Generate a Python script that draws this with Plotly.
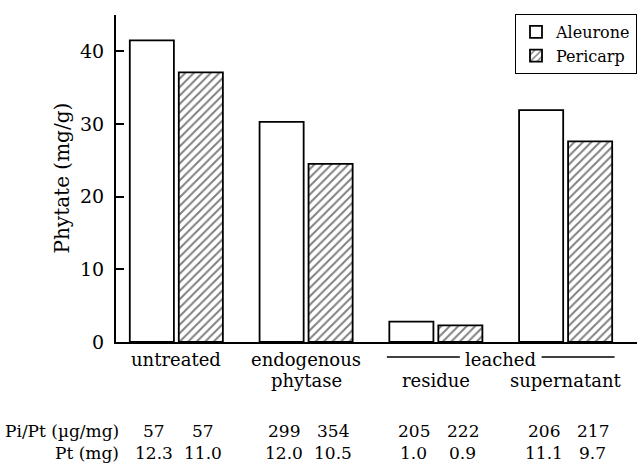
import plotly.graph_objects as go

categories = ["untreated", "endogenous", "residue", "supernatant"]
aleurone = [41.5, 30.3, 2.8, 31.9]
pericarp = [37.1, 24.5, 2.3, 27.6]
cat_line1 = ["untreated", "endogenous", "", ""]
cat_line2 = ["", "phytase", "residue", "supernatant"]
pi_pt_aleurone = ["57", "299", "205", "206"]
pi_pt_pericarp = ["57", "354", "222", "217"]
pt_aleurone = ["12.3", "12.0", "1.0", "11.1"]
pt_pericarp = ["11.0", "10.5", "0.9", "9.7"]
row_labels = ["Pi/Pt (\u00b5g/mg)", "Pt (mg)"]

FONT = "DejaVu Serif"
BARGAP = 0.245
GROUPGAP = 0.1
slot = (1 - BARGAP) / 2
off = slot / 2

xi = list(range(len(categories)))

fig = go.Figure()
fig.add_trace(go.Bar(x=xi, y=aleurone, name="Aleurone",
                     marker=dict(color="white", line=dict(color="black", width=1.8))))
fig.add_trace(go.Bar(x=xi, y=pericarp, name="Pericarp",
                     marker=dict(color="white", line=dict(color="black", width=1.8),
                                 pattern=dict(shape="/", size=6, solidity=0.32,
                                              fgcolor="black", bgcolor="white",
                                              fillmode="overlay"))))

ann = []
def yp(px):
    return (342 - px) / 327.0

CAT = 18
TAB = 17
for i in xi:
    if cat_line1[i]:
        ann.append(dict(x=i, y=yp(359), xref="x", yref="paper", text=cat_line1[i],
                        showarrow=False, font=dict(size=CAT, family=FONT, color="black"),
                        yanchor="middle"))
    if cat_line2[i]:
        ann.append(dict(x=i, y=yp(380), xref="x", yref="paper", text=cat_line2[i],
                        showarrow=False, font=dict(size=CAT, family=FONT, color="black"),
                        yanchor="middle"))
    for vals, sgn, row_y in [(pi_pt_aleurone, -1, 431), (pi_pt_pericarp, 1, 431),
                             (pt_aleurone, -1, 453), (pt_pericarp, 1, 453)]:
        ann.append(dict(x=i + sgn * off + 0.02, y=yp(row_y), xref="x", yref="paper",
                        text=vals[i], showarrow=False,
                        font=dict(size=TAB, family=FONT, color="black"), yanchor="middle"))

# leached group header
lx = (2 + 3) / 2
ann.append(dict(x=lx, y=yp(359), xref="x", yref="paper", text="leached", showarrow=False,
                font=dict(size=CAT, family=FONT, color="black"), yanchor="middle"))

for lbl, row_y in zip(row_labels, [431, 453]):
    ann.append(dict(x=(121 - 116) / 521, y=yp(row_y), xref="paper", yref="paper", text=lbl,
                    showarrow=False, xanchor="right", yanchor="middle",
                    font=dict(size=TAB, family=FONT, color="black")))

ann.append(dict(x=(61 - 116) / 521, y=0.5, xref="paper", yref="paper",
                text="Phytate (mg/g)", textangle=-90, showarrow=False,
                xanchor="center", yanchor="middle",
                font=dict(size=20, family=FONT, color="black")))

shapes = [
    dict(type="line", xref="x", yref="paper", x0=2 - 2 * off, x1=lx - 0.315,
         y0=yp(357), y1=yp(357), line=dict(color="black", width=1.3)),
    dict(type="line", xref="x", yref="paper", x0=lx + 0.315, x1=3 + 2 * off,
         y0=yp(357), y1=yp(357), line=dict(color="black", width=1.3)),
]

fig.update_layout(
    width=637, height=463,
    margin=dict(l=116, r=0, t=15, b=121),
    paper_bgcolor="white", plot_bgcolor="white",
    barmode="group", bargap=BARGAP, bargroupgap=GROUPGAP,
    font=dict(family=FONT, color="black"),
    showlegend=True,
    legend=dict(x=1, y=1.003, xanchor="right", yanchor="top",
                bordercolor="black", borderwidth=1, bgcolor="white",
                font=dict(size=16, family=FONT, color="black"),
                tracegroupgap=0, itemwidth=30),
    annotations=ann, shapes=shapes,
)
fig.update_xaxes(range=[-0.465, 3.55], showticklabels=False, ticks="",
                 showline=True, linecolor="black", linewidth=2, showgrid=False,
                 zeroline=False)
fig.update_yaxes(range=[0, 45], tickvals=[0, 10, 20, 30, 40], ticks="inside",
                 ticklen=8, tickwidth=1.5, tickcolor="black",
                 showline=True, linecolor="black", linewidth=2, showgrid=False,
                 zeroline=False, ticklabelstandoff=6,
                 tickfont=dict(size=19, family=FONT, color="black"))

fig.write_html("out.html")
